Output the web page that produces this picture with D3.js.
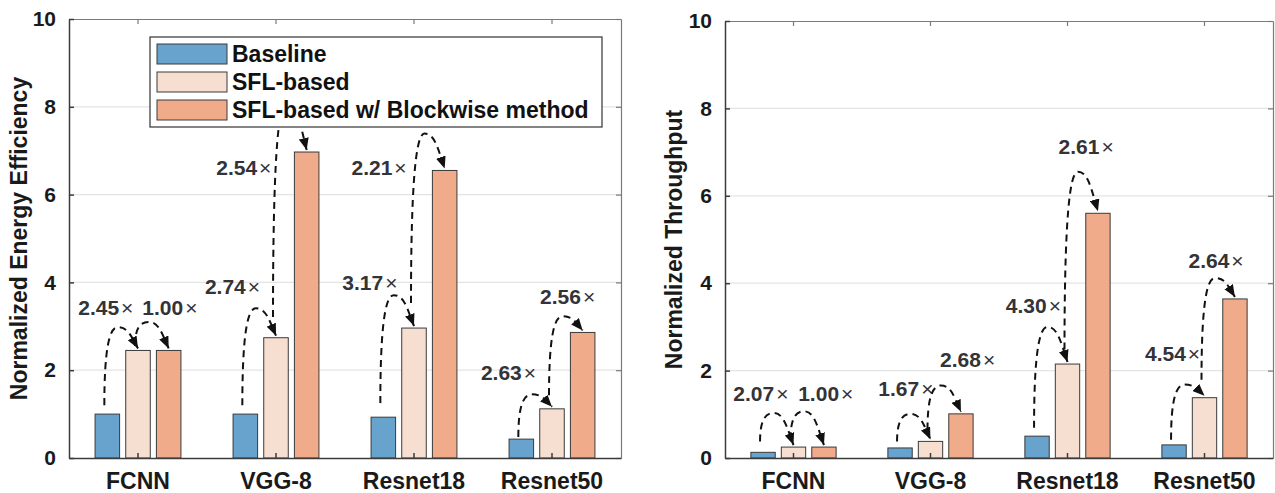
<!DOCTYPE html>
<html>
<head>
<meta charset="utf-8">
<script src="https://cdn.jsdelivr.net/npm/d3@7"></script>
<style>
  body { margin: 0; background: #fff; }
  svg text { font-family: "Liberation Sans", Arial, sans-serif; font-weight: bold; }
</style>
</head>
<body>
<svg id="fig" width="1275" height="493"></svg>
<script>
/** * * * * DATA * * * * */
const categories = ['FCNN', 'VGG-8', 'Resnet18', 'Resnet50'];
const seriesNames = ['Baseline', 'SFL-based', 'SFL-based w/ Blockwise method'];
const yTicks = [0, 2, 4, 6, 8, 10];

const energyBaseline = [1.00, 1.00, 0.93, 0.43];
const energySFL = [2.45, 2.74, 2.96, 1.12];
const energyBlockwise = [2.45, 6.97, 6.55, 2.86];

const throughputBaseline = [0.13, 0.23, 0.50, 0.30];
const throughputSFL = [0.25, 0.38, 2.15, 1.38];
const throughputBlockwise = [0.25, 1.01, 5.60, 3.64];

// speed-up arrows: start / peak of the dashed arc and label anchor, in data units
const energyArrows = [
  {cat: 'FCNN', from: 0, to: 1, start: 1.20, peak: 2.98, text: '2.45', at: -1.05, level: 3.44},
  {cat: 'FCNN', from: 1, to: 2, start: 2.55, peak: 3.10, text: '1.00', at: 1.04, level: 3.44},
  {cat: 'VGG-8', from: 0, to: 1, start: 1.20, peak: 3.41, text: '2.74', at: -1.42, level: 3.90},
  {cat: 'VGG-8', from: 1, to: 2, start: 3.21, peak: 8.10, text: '2.54', at: -1.05, level: 6.62},
  {cat: 'Resnet18', from: 0, to: 1, start: 1.25, peak: 3.71, text: '3.17', at: -1.44, level: 3.99},
  {cat: 'Resnet18', from: 1, to: 2, start: 3.53, peak: 7.39, text: '2.21', at: -1.14, level: 6.63},
  {cat: 'Resnet50', from: 0, to: 1, start: 0.48, peak: 1.45, text: '2.63', at: -1.42, level: 1.96},
  {cat: 'Resnet50', from: 1, to: 2, start: 1.43, peak: 3.23, text: '2.56', at: 0.51, level: 3.67}
];
const throughputArrows = [
  {cat: 'FCNN', from: 0, to: 1, start: 0.38, peak: 1.03, text: '2.07', at: -1.07, level: 1.47},
  {cat: 'FCNN', from: 1, to: 2, start: 0.43, peak: 1.07, text: '1.00', at: 1.06, level: 1.47},
  {cat: 'VGG-8', from: 0, to: 1, start: 0.38, peak: 1.01, text: '1.67', at: -0.81, level: 1.60},
  {cat: 'VGG-8', from: 1, to: 2, start: 0.65, peak: 1.66, text: '2.68', at: 1.22, level: 2.25},
  {cat: 'Resnet18', from: 0, to: 1, start: 0.69, peak: 3.00, text: '4.30', at: -1.12, level: 3.50},
  {cat: 'Resnet18', from: 1, to: 2, start: 2.48, peak: 6.55, text: '2.61', at: 0.61, level: 7.13},
  {cat: 'Resnet50', from: 0, to: 1, start: 0.42, peak: 1.68, text: '4.54', at: -1.05, level: 2.40},
  {cat: 'Resnet50', from: 1, to: 2, start: 1.79, peak: 4.12, text: '2.64', at: 0.38, level: 4.53}
];

/** * * * * STYLE * * * * */
const colors = ['#67a3cd', '#f6dfd0', '#f0ab8b'];
const svg = d3.select('#fig');

svg.append('defs').append('marker')
  .attr('id', 'arrow')
  .attr('markerUnits', 'userSpaceOnUse')
  .attr('markerWidth', 13)
  .attr('markerHeight', 10)
  .attr('refX', 12)
  .attr('refY', 5)
  .attr('orient', 'auto')
  .append('path')
  .attr('d', 'M0,0 L12,5 L0,10 Z')
  .attr('fill', '#111');

/**
 * Draws one grouped bar panel
 */
function drawPanel(cfg) {
  const g = svg.append('g');

  const x = d3.scaleBand().domain(categories).range([cfg.left, cfg.right]);
  const bw = x.bandwidth();
  const pitch = bw * 2 / 9;
  const xSub = d3.scaleBand()
    .domain(d3.range(seriesNames.length))
    .range([bw / 2 - 1.5 * pitch, bw / 2 + 1.5 * pitch])
    .paddingInner(0.2)
    .paddingOuter(0.1);
  const y = d3.scaleLinear().domain([0, 10]).range([cfg.bottom, cfg.top]);

  const barCenter = (cat, s) => x(cat) + xSub(s) + xSub.bandwidth() / 2;

  // gridlines
  g.append('g').selectAll('line')
    .data(yTicks.filter(t => t > 0 && t < 10))
    .join('line')
    .attr('x1', cfg.left).attr('x2', cfg.right)
    .attr('y1', d => y(d)).attr('y2', d => y(d))
    .attr('stroke', '#e4e4e4')
    .attr('stroke-width', 1.2);

  // box: top and right
  const top = g.append('g')
    .attr('transform', `translate(0,${cfg.top})`)
    .call(d3.axisTop(x).tickSizeInner(-5).tickSizeOuter(0).tickFormat(''));
  const right = g.append('g')
    .attr('transform', `translate(${cfg.right},0)`)
    .call(d3.axisRight(y).tickValues(yTicks).tickSizeInner(-5).tickSizeOuter(0).tickFormat(''));
  [top, right].forEach(a => {
    a.selectAll('path, line').attr('stroke', '#7a7a7a').attr('stroke-width', 1.2);
  });

  // bars
  cfg.series.forEach((vals, s) => {
    g.append('g').selectAll('rect')
      .data(categories.map((c, i) => ({cat: c, v: vals[i]})))
      .join('rect')
      .attr('x', d => x(d.cat) + xSub(s))
      .attr('y', d => y(d.v))
      .attr('width', xSub.bandwidth())
      .attr('height', d => y(0) - y(d.v))
      .attr('fill', colors[s])
      .attr('stroke', '#3a3a3a')
      .attr('stroke-width', 1);
  });

  // axes: left and bottom
  const yAxis = g.append('g')
    .attr('transform', `translate(${cfg.left},0)`)
    .call(d3.axisLeft(y).tickValues(yTicks).tickSizeInner(-5).tickSizeOuter(0).tickPadding(13));
  const xAxis = g.append('g')
    .attr('transform', `translate(0,${cfg.bottom})`)
    .call(d3.axisBottom(x).tickSizeInner(-5).tickSizeOuter(0).tickPadding(15));
  [yAxis, xAxis].forEach(a => {
    a.selectAll('path, line').attr('stroke', '#3c3c3c').attr('stroke-width', 1.5);
    a.selectAll('text').attr('fill', '#1a1a1a');
  });
  yAxis.selectAll('text').style('font-size', '21px');
  xAxis.selectAll('text').style('font-size', '23px');

  // y title
  g.append('text')
    .attr('transform', `translate(${cfg.titleX},${(cfg.top + cfg.bottom) / 2}) rotate(-90)`)
    .attr('text-anchor', 'middle')
    .style('font-size', '23px')
    .attr('fill', '#1a1a1a')
    .text(cfg.title);

  // dashed speed-up arcs
  cfg.arrows.forEach(a => {
    const toVal = cfg.series[a.to][categories.indexOf(a.cat)];
    const xs = barCenter(a.cat, a.from) - 3;
    const ys = y(a.start);
    const xe = barCenter(a.cat, a.to);
    const ye = y(toVal) - 2;
    const yp = y(a.peak);
    const xp = xs + 0.4 * (xe - xs);
    const p = d3.path();
    p.moveTo(xs, ys);
    p.bezierCurveTo(xs, yp + 0.3 * (ys - yp), xs + 0.35 * (xp - xs), yp, xp, yp);
    p.bezierCurveTo(xp + 0.5 * (xe - xp), yp, xe - 0.35 * (xe - xp), ye - 0.6 * (ye - yp), xe, ye);
    g.append('path')
      .attr('d', p.toString())
      .attr('fill', 'none')
      .attr('stroke', '#111')
      .attr('stroke-width', 2)
      .attr('stroke-dasharray', '7,5')
      .attr('marker-end', 'url(#arrow)');

    const t = g.append('text')
      .attr('x', barCenter(a.cat, 1) + a.at * pitch)
      .attr('y', y(a.level))
      .attr('dy', '0.36em')
      .attr('text-anchor', 'middle')
      .attr('fill', '#333338')
      .style('font-size', '21px')
      .text(a.text);
    t.append('tspan').attr('dx', 2).style('font-weight', 'normal').text('\u00d7');
  });

  // legend
  if (cfg.legend) {
    const lg = g.append('g').attr('transform', `translate(${cfg.legend.x},${cfg.legend.y})`);
    lg.append('rect')
      .attr('width', cfg.legend.w).attr('height', cfg.legend.h)
      .attr('fill', '#fff').attr('stroke', '#333').attr('stroke-width', 1.2);
    seriesNames.forEach((name, i) => {
      lg.append('rect')
        .attr('x', 7).attr('y', 7 + i * 28)
        .attr('width', 70).attr('height', 20)
        .attr('fill', colors[i]).attr('stroke', '#3a3a3a');
      lg.append('text')
        .attr('x', 82).attr('y', 17 + i * 28)
        .attr('dy', '0.36em')
        .style('font-size', '23px')
        .attr('fill', '#111')
        .text(name);
    });
  }
}

drawPanel({
  left: 69, right: 621, top: 19, bottom: 458,
  series: [energyBaseline, energySFL, energyBlockwise],
  arrows: energyArrows,
  title: 'Normalized Energy Efficiency',
  titleX: 27,
  legend: {x: 150, y: 37, w: 452, h: 90}
});

drawPanel({
  left: 725, right: 1273, top: 21, bottom: 458,
  series: [throughputBaseline, throughputSFL, throughputBlockwise],
  arrows: throughputArrows,
  title: 'Normalized Throughput',
  titleX: 682,
  legend: null
});
</script>
</body>
</html>
